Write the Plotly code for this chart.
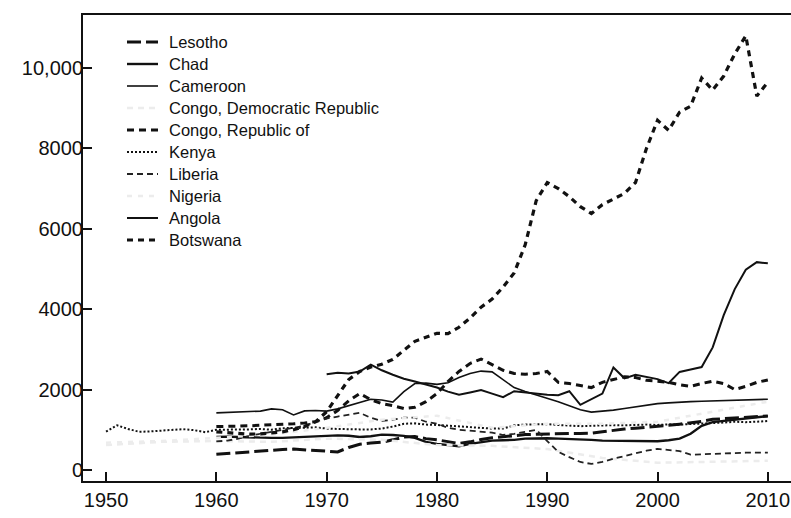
import plotly.graph_objects as go

# ---------------- data ----------------
years_5060 = list(range(1950, 2011))
years_60 = list(range(1960, 2011))
years_70 = list(range(1970, 2011))
years_5y = list(range(1950, 2011, 5))

lesotho = [390, 410, 440, 460, 480, 500, 510, 520, 500, 480,
           460, 450, 560, 640, 670, 690, 750, 820, 830, 780,
           750, 700, 660, 700, 760, 800, 830, 860, 880, 890,
           900, 905, 910, 910, 915, 950, 990, 1020, 1040, 1060,
           1080, 1110, 1140, 1170, 1210, 1260, 1280, 1300, 1320, 1330,
           1345]

chad = [820, 830, 820, 810, 810, 800, 800, 810, 830, 840,
        850, 860, 850, 820, 840, 880, 870, 850, 800, 700,
        650, 620, 590, 650, 690, 730, 740, 750, 780, 790,
        790, 780, 770, 770, 750, 730, 725, 720, 720, 715,
        715, 740, 780, 900, 1100, 1190, 1220, 1250, 1280, 1300,
        1340]

cameroon = [1420, 1430, 1440, 1450, 1465, 1520, 1500, 1370, 1470, 1480,
            1465, 1520, 1600, 1680, 1760, 1740, 1690, 1950, 2150, 2160,
            2130, 2170, 2300, 2400, 2460, 2440, 2250, 2050, 1950, 1870,
            1790, 1700, 1600, 1500, 1440, 1460, 1490, 1530, 1570, 1610,
            1650, 1670, 1690, 1700, 1710, 1720, 1730, 1740, 1750, 1755,
            1760]

congo_dr = [620, 700, 720, 700, 780, 750, 620, 600, 520, 300, 180, 200, 230]

congo_rep = [1080, 1080, 1090, 1100, 1110, 1120, 1130, 1150, 1170, 1200,
             1300, 1480, 1720, 1900, 1750, 1650, 1600, 1530, 1560, 1700,
             1900, 2200, 2450, 2650, 2760, 2620, 2480, 2400, 2380, 2400,
             2450, 2180, 2150, 2100, 2050, 2180, 2250, 2320, 2300, 2230,
             2210, 2180, 2120, 2080, 2150, 2210, 2150, 2000, 2080, 2180,
             2240]

kenya = [955, 1110, 1020, 950, 960, 980, 1000, 1015, 990, 940,
         1000, 1000, 1000, 1010, 1020, 1000, 1040, 1040, 1050, 1060,
         1030, 1020, 1010, 1010, 1010, 1030, 1080, 1150, 1160, 1130,
         1120, 1100, 1090, 1060, 1040, 1030, 1030, 1110, 1130, 1140,
         1140, 1120, 1100, 1090, 1100, 1110, 1115, 1110, 1120, 1130,
         1120, 1135, 1130, 1140, 1150, 1160, 1180, 1200, 1190, 1200,
         1220]

liberia = [710, 730, 780, 850, 900, 950, 1000, 1050, 1100, 1200,
           1280, 1330, 1380, 1420, 1300, 1220, 1250, 1300, 1300, 1200,
           1150, 1050, 1000, 980, 950, 930, 870, 900, 950, 1000,
           720, 450, 320, 200, 150, 200, 280, 350, 420, 480,
           525, 500, 470, 380, 390, 400, 420, 430, 430, 430,
           430]

nigeria = [680, 720, 800, 880, 1050, 1250, 1350, 1050, 1150, 1150, 1200, 1450, 1700]

angola = [2380, 2420, 2400, 2450, 2620, 2480, 2370, 2270, 2200, 2130,
          2050, 1950, 1870, 1930, 1990, 1900, 1810, 1960, 1930, 1900,
          1870, 1860, 1960, 1620, 1750, 1900, 2550, 2280, 2370, 2320,
          2260, 2160, 2440, 2500, 2560, 3050, 3850, 4500, 4980, 5170,
          5140]

botswana = [950, 930, 900, 890, 900, 920, 950, 1000, 1080, 1200,
            1450, 1850, 2250, 2450, 2560, 2630, 2750, 2980, 3200, 3300,
            3400, 3390, 3550, 3780, 4050, 4250, 4550, 4900, 5600, 6700,
            7150, 7000, 6800, 6550, 6380, 6600, 6750, 6880, 7150, 8000,
            8700, 8450, 8900, 9050, 9750, 9450, 9800, 10350, 10800, 9300,
            9650]

y_tick_vals = [0, 2000, 4000, 6000, 8000, 10000]
y_tick_text = ["0", "2000", "4000", "6000", "8000", "10,000"]
x_tick_vals = [1950, 1960, 1970, 1980, 1990, 2000, 2010]
x_tick_text = ["1950", "1960", "1970", "1980", "1990", "2000", "2010"]

# ---------------- figure ----------------
INK = "#111111"
FAINT = "#ececec"
W, H = 791, 518
ML, MR, MT, MB = 83, 0, 15, 37
PW, PH = W - ML - MR, H - MT - MB

series = [
    ("Lesotho", years_60, lesotho, dict(color=INK, width=3, dash="14px,5px")),
    ("Chad", years_60, chad, dict(color=INK, width=2.4)),
    ("Cameroon", years_60, cameroon, dict(color=INK, width=1.6)),
    ("Congo, Democratic Republic", years_5y, congo_dr, dict(color=FAINT, width=2.5, dash="6px,5px")),
    ("Congo, Republic of", years_60, congo_rep, dict(color=INK, width=3, dash="7px,5px")),
    ("Kenya", years_5060, kenya, dict(color=INK, width=2, dash="2px,2px")),
    ("Liberia", years_60, liberia, dict(color="#222222", width=1.8, dash="6px,4px")),
    ("Nigeria", years_5y, nigeria, dict(color=FAINT, width=2.5, dash="5px,6px")),
    ("Angola", years_70, angola, dict(color=INK, width=2)),
    ("Botswana", years_60, botswana, dict(color=INK, width=3.2, dash="6px,5px")),
]

fig = go.Figure()
for name, xs, ys, ln in series:
    fig.add_trace(go.Scatter(x=xs, y=ys, name=name, mode="lines", line=ln,
                             showlegend=False))


def px_x(p):
    return (p - ML) / PW


def px_y(p):
    return (MT + PH - p) / PH


# legend drawn as key lines + text labels (placed like the reference)
shapes, annotations = [], []
for i, (name, _, _, ln) in enumerate(series):
    yy = px_y(42 + 22 * i)
    shapes.append(dict(type="line", xref="paper", yref="paper",
                       x0=px_x(127), x1=px_x(158), y0=yy, y1=yy,
                       line=dict(color=ln["color"], width=ln["width"],
                                 dash=ln.get("dash", "solid"))))
    annotations.append(dict(xref="paper", yref="paper", x=px_x(167), y=yy,
                            xanchor="left", yanchor="middle", showarrow=False,
                            text=name, font=dict(size=16.5, color=INK)))

fig.update_layout(
    width=W, height=H,
    margin=dict(l=ML, r=MR, t=MT, b=MB),
    paper_bgcolor="white", plot_bgcolor="white",
    font=dict(family="Liberation Sans, Arial, sans-serif", color=INK),
    showlegend=False,
    shapes=shapes, annotations=annotations,
)

fig.update_xaxes(
    range=[1947.91, 2012.1],
    tickvals=x_tick_vals, ticktext=x_tick_text,
    ticks="inside", ticklen=9, tickwidth=1.6, tickcolor=INK,
    showline=True, linecolor=INK, linewidth=2, mirror=True,
    showgrid=False, zeroline=False,
    tickfont=dict(size=20, color=INK),
)
fig.update_yaxes(
    range=[-274, 11318],
    tickvals=y_tick_vals, ticktext=y_tick_text,
    ticks="inside", ticklen=9, tickwidth=1.6, tickcolor=INK,
    showline=True, linecolor=INK, linewidth=2, mirror=False,
    showgrid=False, zeroline=False,
    tickfont=dict(size=20, color=INK),
    ticklabelstandoff=-6,
)

fig.write_html("out.html")
